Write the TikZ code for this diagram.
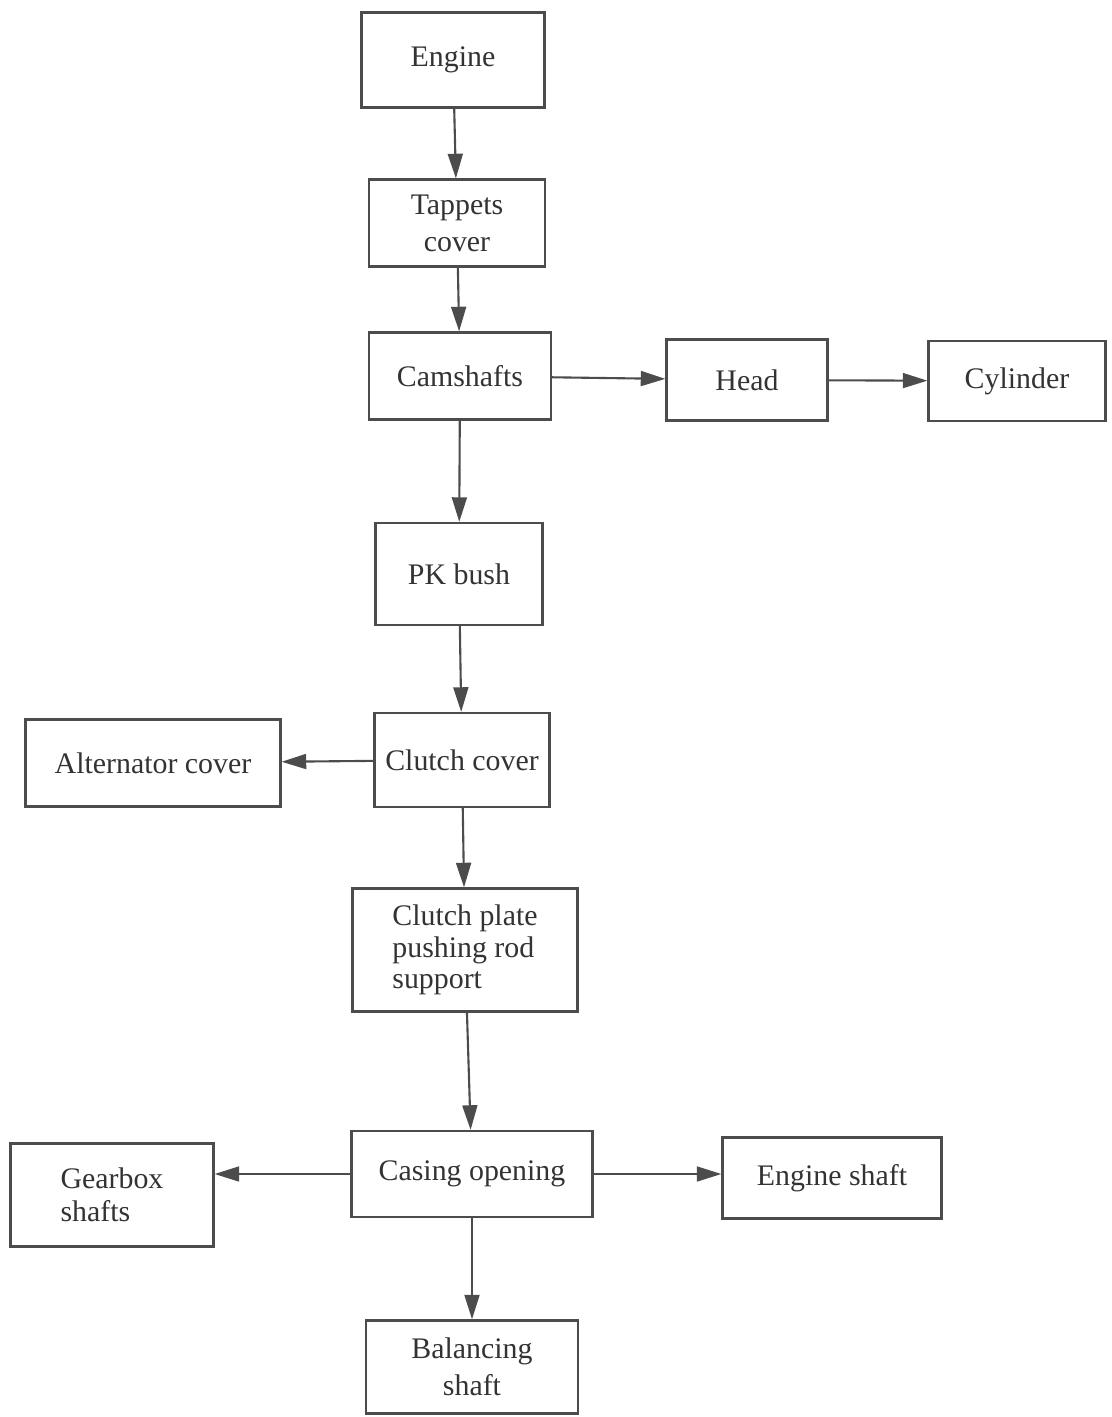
\documentclass[tikz,border=0pt]{standalone}
\usepackage{fontspec}
\setmainfont{Liberation Serif}
\usetikzlibrary{arrows.meta}

\begin{document}
\begin{tikzpicture}[x=0.02cm,y=-0.02cm,
  every node/.style={font=\fontsize{17}{21}\selectfont,text=black!80},
  stagebox/.style={draw=black!70,line width=1.3pt,inner sep=2pt,align=center},
  flow/.style={draw=black!70,line width=1.2pt,-{Triangle[length=14pt,width=8.5pt]}}]
  \useasboundingbox (0,0) rectangle (1112,1417);
  % main column
  \node[stagebox,minimum width=3.66cm,minimum height=1.9cm] (engine) at (453,60) {Engine};
  \node[stagebox,minimum width=3.52cm,minimum height=1.74cm] (tappets) at (457,223) {Tappets\\cover};
  \node[stagebox,minimum width=3.64cm,minimum height=1.74cm] (cams) at (460,376) {Camshafts};
  \node[stagebox,minimum width=3.34cm,minimum height=2.04cm] (pkbush) at (459,574) {PK bush};
  \node[stagebox,minimum width=3.5cm,minimum height=1.88cm] (clutch) at (462,760) {Clutch cover};
  \node[stagebox,minimum width=4.5cm,minimum height=2.46cm,align=left,
    font=\fontsize{17}{18}\selectfont] (rodsup) at (465,950) {Clutch plate\\pushing rod\\support};
  \node[stagebox,minimum width=4.82cm,minimum height=1.72cm] (casing) at (472,1174) {Casing opening};
  \node[stagebox,minimum width=4.24cm,minimum height=1.86cm] (balshaft) at (472,1367) {Balancing\\shaft};
  % side boxes
  \node[stagebox,minimum width=3.22cm,minimum height=1.62cm] (head) at (747,380) {Head};
  \node[stagebox,minimum width=3.54cm,minimum height=1.6cm] (cyl) at (1017,381) {Cylinder};
  \node[stagebox,minimum width=5.1cm,minimum height=1.74cm] (altcov) at (153,763) {Alternator cover};
  \node[stagebox,minimum width=4.06cm,minimum height=2.06cm,align=left,
    font=\fontsize{17}{18.5}\selectfont] (gearbox) at (112,1195) {Gearbox\\shafts};
  \node[stagebox,minimum width=4.38cm,minimum height=1.62cm] (engshaft) at (832,1178) {Engine shaft};
  % arrows
  \draw[flow] (engine) -- (tappets);
  \draw[flow] (tappets) -- (cams);
  \draw[flow] (cams) -- (pkbush);
  \draw[flow] (pkbush) -- (clutch);
  \draw[flow] (clutch) -- (rodsup);
  \draw[flow] (rodsup) -- (casing);
  \draw[flow] (casing) -- (balshaft);
  \draw[flow] (cams) -- (head);
  \draw[flow] (head) -- (cyl);
  \draw[flow] (clutch) -- (altcov);
  \draw[flow] (casing.west) -- (casing.west -| gearbox.east);
  \draw[flow] (casing.east) -- (casing.east -| engshaft.west);
\end{tikzpicture}
\end{document}
